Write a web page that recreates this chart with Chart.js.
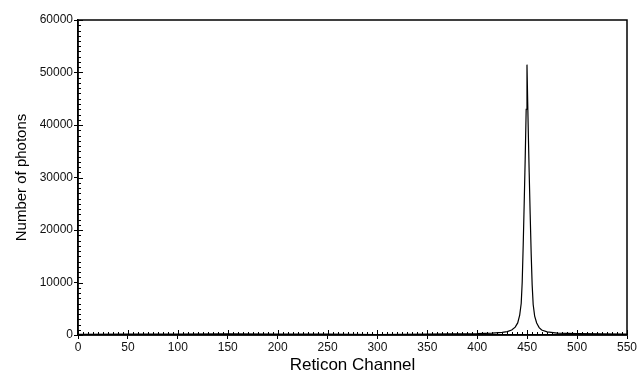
<!DOCTYPE html>
<html>
<head>
<meta charset="utf-8">
<script src="https://cdn.jsdelivr.net/npm/chart.js@4/dist/chart.umd.min.js"></script>
<style>
  html, body { margin: 0; padding: 0; background: #fff; }
  #wrap { width: 639px; height: 374px; }
</style>
</head>
<body>
<div id="wrap"><canvas id="spectrum"></canvas></div>
<script>
// Reticon channel vs photon counts
const channels = [0, 50, 100, 150, 200, 250, 300, 350, 400, 415, 425, 430, 434.5, 438, 440.5, 442.5, 444, 445, 446, 447, 448, 449, 449.8,
                  450.5, 451.3, 452, 453, 454, 455, 456, 457.5, 459.5, 462, 464.5, 470, 480, 500, 550];
const photons  = [100, 150, 150, 200, 150, 150, 100, 150, 250, 350, 500, 650, 950, 1500, 2300, 3800, 6000, 10000, 17000, 25000, 33500, 43000, 51500,
                  44500, 37000, 31000, 23000, 15500, 9500, 5800, 3600, 2300, 1400, 950, 600, 350, 250, 150];

const xTicks = [0, 50, 100, 150, 200, 250, 300, 350, 400, 450, 500, 550];
const yTicks = [0, 10000, 20000, 30000, 40000, 50000, 60000];

const points = channels.map((c, i) => ({ x: c, y: photons[i] }));

// frame around the plot + small inward minor ticks
const frameAndMinor = {
  id: 'frameAndMinor',
  afterDraw(chart) {
    const { ctx, chartArea: { top, left, right, bottom } } = chart;
    const xs = chart.scales.x, ys = chart.scales.y;
    ctx.save();
    ctx.strokeStyle = '#000';
    ctx.lineWidth = 1.5;
    ctx.strokeRect(left, top, right - left, bottom - top);
    ctx.lineWidth = 1;
    ctx.beginPath();
    for (let v = 0; v <= 550; v += 5) {
      const px = Math.round(xs.getPixelForValue(v)) + 0.5;
      const len = v % 50 === 0 ? 5 : 3;
      ctx.moveTo(px, bottom);
      ctx.lineTo(px, bottom - len);
    }
    for (let v = 0; v <= 60000; v += 1000) {
      const py = Math.round(ys.getPixelForValue(v)) + 0.5;
      const len = v % 10000 === 0 ? 5 : 3;
      ctx.moveTo(left, py);
      ctx.lineTo(left + len, py);
    }
    ctx.stroke();
    ctx.restore();
  }
};

new Chart(document.getElementById('spectrum'), {
  type: 'line',
  data: {
    datasets: [{
      label: 'photons',
      data: points,
      borderColor: '#000',
      borderWidth: 1.2,
      pointRadius: 0,
      tension: 0,
      fill: false
    }]
  },
  options: {
    responsive: true,
    maintainAspectRatio: false,
    animation: false,
    layout: { padding: { top: 20, right: 12, left: 0, bottom: 0 } },
    plugins: {
      legend: { display: false },
      tooltip: { enabled: false }
    },
    scales: {
      x: {
        type: 'linear',
        min: 0,
        max: 550,
        afterFit: (s) => { s.height = 39; },
        afterBuildTicks: (s) => { s.ticks = xTicks.map(v => ({ value: v })); },
        border: { display: true, color: '#000', width: 1.5 },
        grid: { drawOnChartArea: false, drawTicks: true, tickLength: 4, color: '#000' },
        ticks: {
          color: '#111',
          padding: 1,
          maxRotation: 0,
          callback: (v) => String(v),
          font: { family: 'Liberation Sans, Arial, sans-serif', size: 12 }
        },
        title: {
          display: true,
          text: 'Reticon Channel',
          color: '#000',
          padding: { top: 0, bottom: 0 },
          font: { family: 'Liberation Sans, Arial, sans-serif', size: 17, lineHeight: 1 }
        }
      },
      y: {
        type: 'linear',
        min: 0,
        max: 60000,
        afterFit: (s) => { s.width = 78; },
        afterBuildTicks: (s) => { s.ticks = yTicks.map(v => ({ value: v })); },
        border: { display: true, color: '#000', width: 1.5 },
        grid: { drawOnChartArea: false, drawTicks: true, tickLength: 4, color: '#000' },
        ticks: {
          color: '#111',
          padding: 1,
          callback: (v) => String(v),
          font: { family: 'Liberation Sans, Arial, sans-serif', size: 12 }
        },
        title: {
          display: true,
          text: 'Number of photons',
          color: '#000',
          padding: { top: 13, bottom: 0 },
          font: { family: 'Liberation Sans, Arial, sans-serif', size: 15, lineHeight: 1.2 }
        }
      }
    }
  },
  plugins: [frameAndMinor]
});
</script>
</body>
</html>
